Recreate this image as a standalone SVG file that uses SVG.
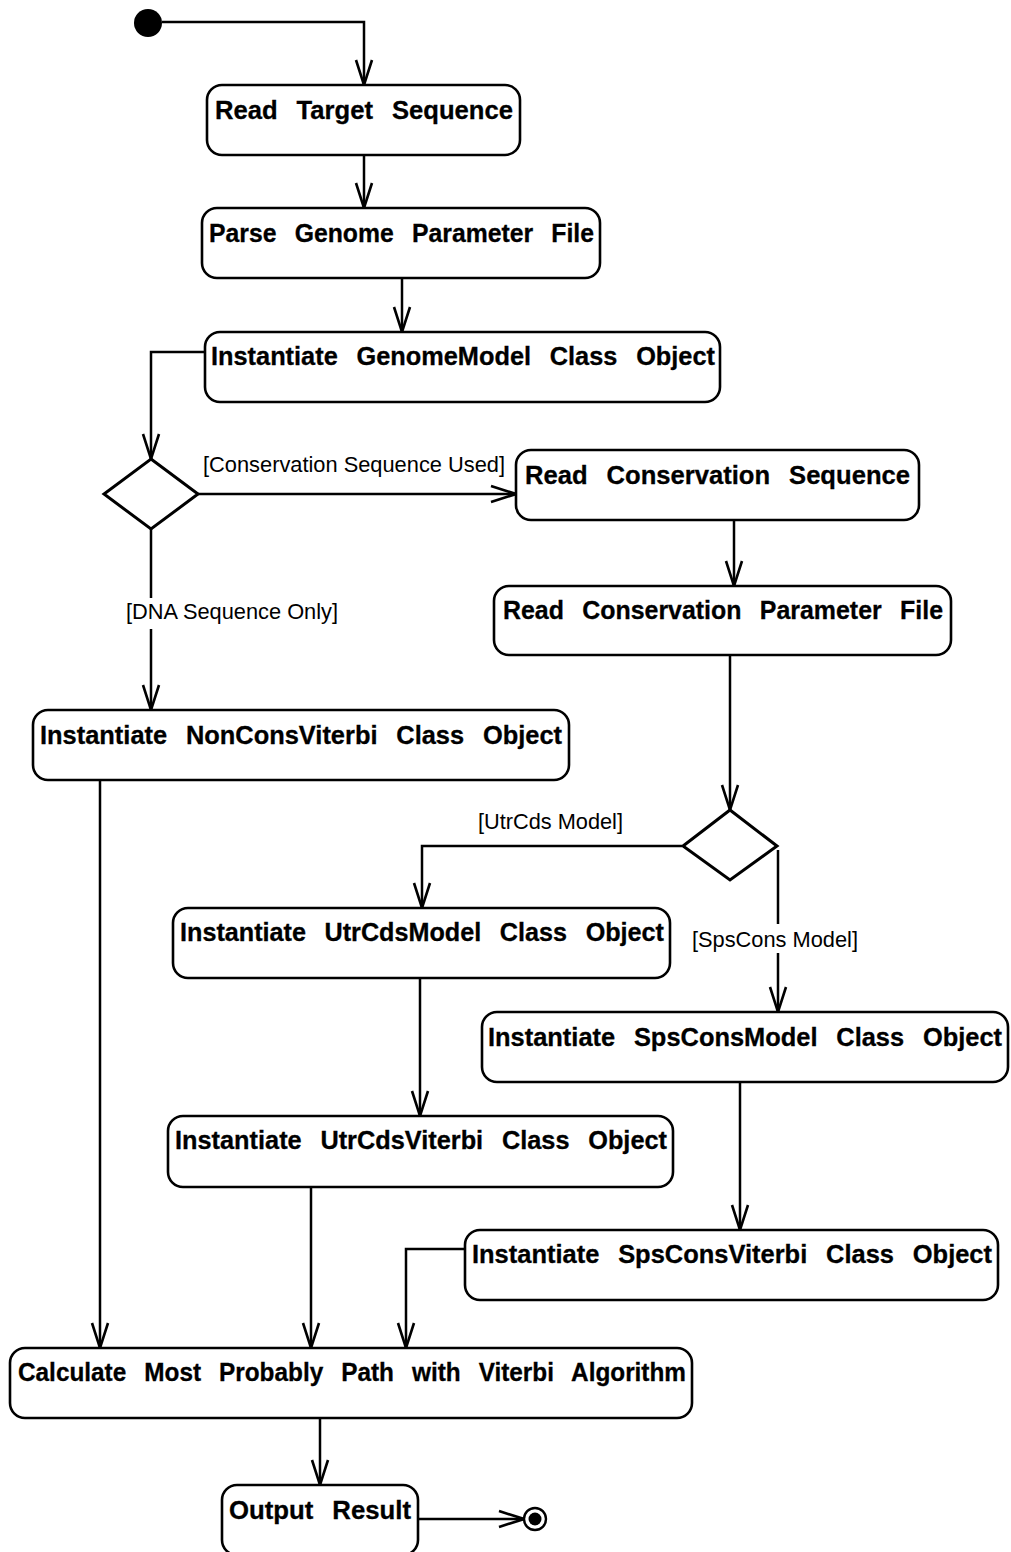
<svg xmlns="http://www.w3.org/2000/svg" width="1011" height="1552" viewBox="0 0 1011 1552">
  <style>
    .act { fill: #fff; stroke: #000; stroke-width: 2.6; }
    .dec { fill: #fff; stroke: #000; stroke-width: 3; stroke-linejoin: miter; }
    .lbl { font-family: "Liberation Sans", Arial, sans-serif; font-weight: bold; font-size: 26px; word-spacing: 12px; fill: #000; stroke: #000; stroke-width: 0.3; }
    .guard { font-family: "Liberation Sans", Arial, sans-serif; font-size: 22px; fill: #000; }
    .flow { fill: none; stroke: #000; stroke-width: 2.5; marker-end: url(#open); }
  </style>
  <defs>
    <marker id="open" markerUnits="userSpaceOnUse" markerWidth="30" markerHeight="20" viewBox="-2 -10 30 20" refX="25" refY="0" orient="auto">
      <path d="M0,-8 L25,0 L0,8" fill="none" stroke="#000" stroke-width="2.6"/>
    </marker>
  </defs>
  <rect width="1011" height="1552" fill="#fff"/>

  <!-- control flow -->
  <g id="connectors">
    <path class="flow" d="M162,22 H364 V85"/>
    <path class="flow" d="M364,155 V208"/>
    <path class="flow" d="M402,278 V332"/>
    <path class="flow" d="M205,352 H151 V459"/>
    <path class="flow" d="M198,494 H516"/>
    <path class="flow" d="M734,520 V586"/>
    <path class="flow" d="M730,655 V810"/>
    <path class="flow" d="M682,846 H422 V908"/>
    <path class="flow" d="M778,850 V924 M778,953 V1012"/>
    <path class="flow" d="M151,529 V598 M151,629 V710"/>
    <path class="flow" d="M100,780 V1348"/>
    <path class="flow" d="M420,978 V1116"/>
    <path class="flow" d="M740,1082 V1230"/>
    <path class="flow" d="M311,1187 V1348"/>
    <path class="flow" d="M465,1249 H406 V1348"/>
    <path class="flow" d="M320,1418 V1485"/>
    <path class="flow" d="M418,1519 H524"/>
    <text class="guard" x="203" y="472" textLength="302" lengthAdjust="spacingAndGlyphs">[Conservation Sequence Used]</text>
    <text class="guard" x="126" y="619" textLength="212" lengthAdjust="spacingAndGlyphs">[DNA Sequence Only]</text>
    <text class="guard" x="478" y="829" textLength="145" lengthAdjust="spacingAndGlyphs">[UtrCds Model]</text>
    <text class="guard" x="692" y="947" textLength="166" lengthAdjust="spacingAndGlyphs">[SpsCons Model]</text>
  </g>

  <g id="start">
    <circle cx="148" cy="23" r="14" fill="#000"/>
  </g>

  <g id="readTarget">
    <rect class="act" x="207" y="85" width="313" height="70" rx="15"/>
    <text class="lbl" x="215" y="119" textLength="298" lengthAdjust="spacingAndGlyphs">Read Target Sequence</text>
  </g>

  <g id="parseGenome">
    <rect class="act" x="202" y="208" width="398" height="70" rx="15"/>
    <text class="lbl" x="209" y="242" textLength="385" lengthAdjust="spacingAndGlyphs">Parse Genome Parameter File</text>
  </g>

  <g id="genomeModel">
    <rect class="act" x="205" y="332" width="515" height="70" rx="15"/>
    <text class="lbl" x="211" y="365" textLength="504" lengthAdjust="spacingAndGlyphs">Instantiate GenomeModel Class Object</text>
  </g>

  <g id="decisionSeq">
    <polygon class="dec" points="151,459 198,494 151,529 104,494"/>
  </g>

  <g id="readCons">
    <rect class="act" x="516" y="450" width="403" height="70" rx="15"/>
    <text class="lbl" x="525" y="484" textLength="385" lengthAdjust="spacingAndGlyphs">Read Conservation Sequence</text>
  </g>

  <g id="readConsParam">
    <rect class="act" x="494" y="586" width="457" height="69" rx="15"/>
    <text class="lbl" x="503" y="619" textLength="440" lengthAdjust="spacingAndGlyphs">Read Conservation Parameter File</text>
  </g>

  <g id="nonConsViterbi">
    <rect class="act" x="33" y="710" width="536" height="70" rx="15"/>
    <text class="lbl" x="40" y="744" textLength="522" lengthAdjust="spacingAndGlyphs">Instantiate NonConsViterbi Class Object</text>
  </g>

  <g id="decisionModel">
    <polygon class="dec" points="730,810 777,846 730,880 683,846"/>
  </g>

  <g id="utrCdsModel">
    <rect class="act" x="173" y="908" width="497" height="70" rx="15"/>
    <text class="lbl" x="180" y="941" textLength="484" lengthAdjust="spacingAndGlyphs">Instantiate UtrCdsModel Class Object</text>
  </g>

  <g id="spsConsModel">
    <rect class="act" x="482" y="1012" width="526" height="70" rx="15"/>
    <text class="lbl" x="488" y="1046" textLength="514" lengthAdjust="spacingAndGlyphs">Instantiate SpsConsModel Class Object</text>
  </g>

  <g id="utrCdsViterbi">
    <rect class="act" x="168" y="1116" width="505" height="71" rx="15"/>
    <text class="lbl" x="175" y="1149" textLength="492" lengthAdjust="spacingAndGlyphs">Instantiate UtrCdsViterbi Class Object</text>
  </g>

  <g id="spsConsViterbi">
    <rect class="act" x="465" y="1230" width="533" height="70" rx="15"/>
    <text class="lbl" x="472" y="1263" textLength="520" lengthAdjust="spacingAndGlyphs">Instantiate SpsConsViterbi Class Object</text>
  </g>

  <g id="viterbiPath">
    <rect class="act" x="10" y="1348" width="682" height="70" rx="15"/>
    <text class="lbl" x="18" y="1381" textLength="668" lengthAdjust="spacingAndGlyphs">Calculate Most Probably Path with Viterbi Algorithm</text>
  </g>

  <g id="outputResult">
    <rect class="act" x="222" y="1485" width="196" height="70" rx="15"/>
    <text class="lbl" x="229" y="1519" textLength="182" lengthAdjust="spacingAndGlyphs">Output Result</text>
  </g>

  <g id="end">
    <circle cx="535" cy="1519" r="11" fill="#fff" stroke="#000" stroke-width="2.4"/>
    <circle cx="535" cy="1519" r="6.5" fill="#000"/>
  </g>
</svg>
